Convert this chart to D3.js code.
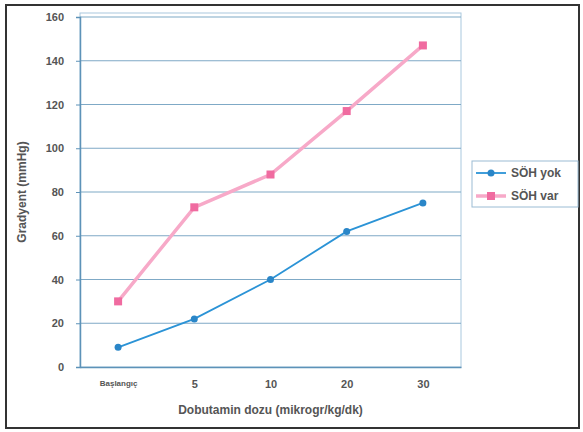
<!DOCTYPE html>
<meta charset="utf-8">
<style>
body { margin: 0; background: #fff; }
text { font-family: "Liberation Sans", Arial, sans-serif; fill: #555; }
.tick text { font-size: 11px; font-weight: bold; }
.title { font-size: 12px; font-weight: bold; }
.grid line { stroke: #7fa9c6; stroke-width: 1.2px; }
</style>
<body>
<script src="https://cdn.jsdelivr.net/npm/d3@7"></script>
<script>

// chart data
var categories = ["Başlangıç", "5", "10", "20", "30"];
var sohYok = [9, 22, 40, 62, 75];
var sohVar = [30, 73, 88, 117, 147];
var yTicks = [0, 20, 40, 60, 80, 100, 120, 140, 160];
var seriesNames = ["SÖH yok", "SÖH var"];

var width = 583, height = 432;
var margin = {top: 17, right: 122, bottom: 65, left: 80};

var svg = d3.select("body").append("svg")
    .attr("width", width)
    .attr("height", height);

// outer frame
svg.append("rect")
    .attr("x", 6).attr("y", 5)
    .attr("width", 573).attr("height", 423)
    .attr("fill", "#fff")
    .attr("stroke", "#333")
    .attr("stroke-width", 2);

var x = d3.scalePoint()
    .domain(categories)
    .range([margin.left, width - margin.right])
    .padding(0.5);

var y = d3.scaleLinear()
    .domain([0, 160])
    .range([height - margin.bottom, margin.top]);

var plotTop = margin.top - 4;

// plot border
svg.append("rect")
    .attr("x", margin.left).attr("y", plotTop)
    .attr("width", width - margin.right - margin.left)
    .attr("height", y(0) - plotTop)
    .attr("fill", "none")
    .attr("stroke", "#a9c8de")
    .attr("stroke-width", 1);

// gridlines
svg.append("g")
    .attr("class", "grid")
    .selectAll("line")
    .data(yTicks.slice(1))
  .enter().append("line")
    .attr("x1", margin.left)
    .attr("x2", width - margin.right)
    .attr("y1", function(d) { return y(d); })
    .attr("y2", function(d) { return y(d); });

// axes
var yAxis = svg.append("g")
    .attr("transform", "translate(" + margin.left + ",0)")
    .call(d3.axisLeft(y).tickValues(yTicks).tickSize(4).tickPadding(12));
var xAxis = svg.append("g")
    .attr("transform", "translate(0," + y(0) + ")")
    .call(d3.axisBottom(x).tickSize(0).tickPadding(13));
[yAxis, xAxis].forEach(function(a) {
  a.select(".domain").attr("stroke", "#5d92b8").attr("stroke-width", 1.5);
  a.selectAll(".tick line").attr("stroke", "#5d92b8");
  a.selectAll(".tick text").style("fill", "#555");
});
xAxis.select(".tick text").style("font-size", "8px");

// axis titles
svg.append("text")
    .attr("class", "title")
    .attr("transform", "translate(26," + ((y(0) + y(160)) / 2) + ") rotate(-90)")
    .attr("text-anchor", "middle")
    .text("Gradyent (mmHg)");
svg.append("text")
    .attr("class", "title")
    .attr("x", (margin.left + width - margin.right) / 2)
    .attr("y", 414)
    .attr("text-anchor", "middle")
    .text("Dobutamin dozu (mikrogr/kg/dk)");

var line = d3.line()
    .x(function(d, i) { return x(categories[i]); })
    .y(function(d) { return y(d); });

// SÖH var
svg.append("path")
    .datum(sohVar)
    .attr("d", line)
    .attr("fill", "none")
    .attr("stroke", "#f7a9c8")
    .attr("stroke-width", 3.5);
svg.selectAll(".pvar")
    .data(sohVar)
  .enter().append("rect")
    .attr("x", function(d, i) { return x(categories[i]) - 4; })
    .attr("y", function(d) { return y(d) - 4; })
    .attr("width", 8).attr("height", 8)
    .attr("fill", "#f06ba0");

// SÖH yok
svg.append("path")
    .datum(sohYok)
    .attr("d", line)
    .attr("fill", "none")
    .attr("stroke", "#2b93d6")
    .attr("stroke-width", 1.8);
svg.selectAll(".pyok")
    .data(sohYok)
  .enter().append("circle")
    .attr("cx", function(d, i) { return x(categories[i]); })
    .attr("cy", function(d) { return y(d); })
    .attr("r", 3.5)
    .attr("fill", "#2a86c8");

// legend
var lg = svg.append("g").attr("transform", "translate(472,161)");
lg.append("rect")
    .attr("width", 106).attr("height", 46)
    .attr("fill", "#fff")
    .attr("stroke", "#9bbcd4");
var colors = ["#2b93d6", "#f7a9c8"];
seriesNames.forEach(function(name, i) {
  var row = lg.append("g").attr("transform", "translate(0," + (12 + i * 23) + ")");
  row.append("line")
      .attr("x1", 4).attr("x2", 34)
      .attr("stroke", colors[i])
      .attr("stroke-width", i ? 3.5 : 1.8);
  if (i) {
    row.append("rect").attr("x", 15).attr("y", -4).attr("width", 8).attr("height", 8).attr("fill", "#f06ba0");
  } else {
    row.append("circle").attr("cx", 19).attr("r", 3.5).attr("fill", "#2a86c8");
  }
  row.append("text")
      .attr("x", 39).attr("dy", "0.35em")
      .style("font-size", "12px").style("font-weight", "bold")
      .text(name);
});

</script>
</body>
